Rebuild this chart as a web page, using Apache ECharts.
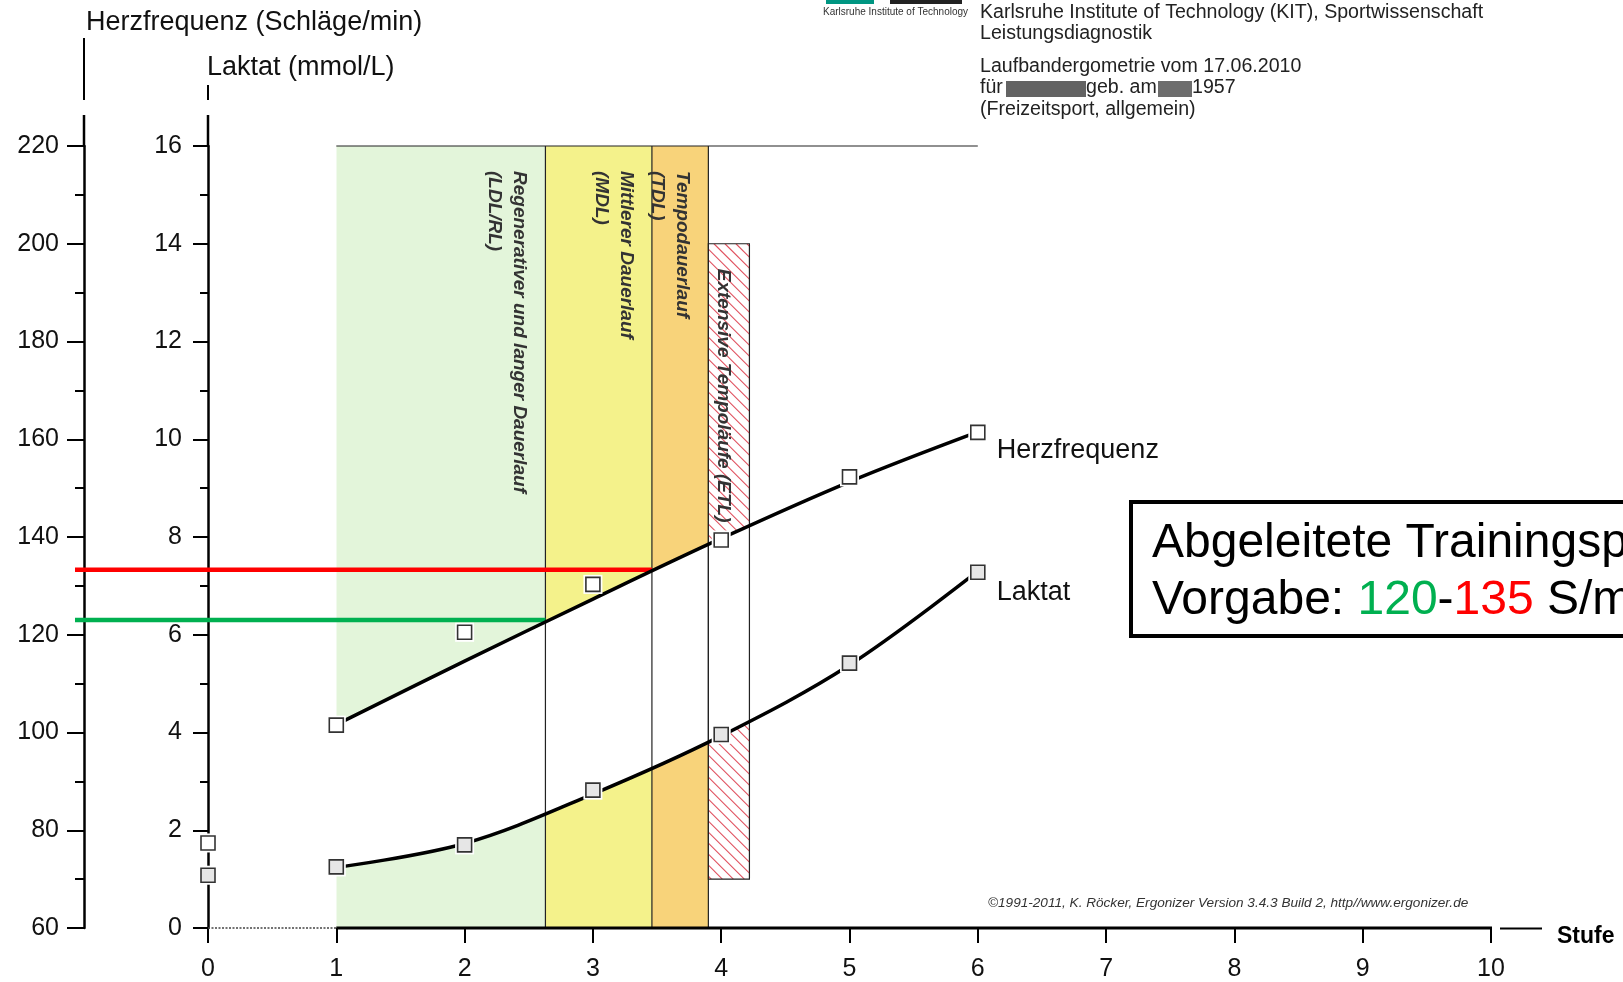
<!DOCTYPE html>
<html><head><meta charset="utf-8">
<script src="https://cdn.jsdelivr.net/npm/echarts@6/dist/echarts.min.js"></script>
<style>html,body{margin:0;padding:0;background:#fff}#c{width:1623px;height:982px}</style>
</head><body><div id="c"></div>
<script>
// ---------- data ----------
const stufen = [1, 2, 3, 4, 5, 6];
const hrMeasured = [101.5, 120.5, 130.3, 139.4, 152.3, 161.4];
const lacMeasured = [1.25, 1.70, 2.82, 3.96, 5.42, 7.28];
const restStufe = [0];
const hrRest = [77.4];
const lacRest = [1.08];
const hrCurve = [101.6, 114.6, 127.3, 139.7, 151.3, 161.5];
const lacCurve = [1.24, 1.73, 2.74, 3.93, 5.38, 7.30];
const zoneNames = ['Regenerativer und langer Dauerlauf\n(LDL/RL)', 'Mittlerer Dauerlauf\n(MDL)', 'Tempodauerlauf\n(TDL)', 'Extensive Tempoläufe (ETL)'];
const zoneFrom = [1, 2.63, 3.46, 3.90];
const zoneTo = [2.63, 3.46, 3.90, 4.22];
const zoneTop = [16, 16, 16, 14];
const zoneBottom = [0, 0, 0, 1];
const frameFrom = 1, frameTo = 6, frameTop = 16;
const targetHR = [123.0, 133.3];
const targetTo = [2.63, 3.46];
const seriesNames = ['Herzfrequenz', 'Laktat'];

// ---------- styles ----------
const FONT = 'Liberation Sans, Arial, sans-serif';
const zoneFill = ['#e3f5da', '#f4f28b', '#f8d37a', 'hatch'];
const targetColors = ['#00b050', '#ff0000'];

const chart = echarts.init(document.getElementById('c'), null, {renderer: 'canvas'});
const pairs = (xs, ys) => xs.map((x, i) => [x, ys[i]]);
const SMOOTH = 0.35;

const axisCommon = {
  type: 'value', position: 'left', splitLine: {show: false},
  axisLine: {show: true, onZero: false, lineStyle: {color: '#000', width: 2.5}},
  axisLabel: {fontSize: 25, color: '#111', fontFamily: FONT}
};

const option = {
  animation: false,
  backgroundColor: '#fff',
  grid: {left: 208, right: 132, top: 146, bottom: 54},
  xAxis: {
    type: 'value', min: 0, max: 10, interval: 1,
    splitLine: {show: false},
    axisLine: {show: false, onZero: false},
    axisTick: {show: true, length: 15, lineStyle: {color: '#000', width: 2}},
    axisLabel: {margin: 29, fontSize: 25, color: '#111', fontFamily: FONT}
  },
  yAxis: [
    Object.assign({}, axisCommon, {
      min: 60, max: 220, interval: 20, offset: 124,
      axisTick: {show: true, length: 17, lineStyle: {color: '#000', width: 2}},
      minorTick: {show: true, splitNumber: 2, length: 9, lineStyle: {color: '#000', width: 2}},
      axisLabel: Object.assign({}, axisCommon.axisLabel, {margin: 25})
    }),
    Object.assign({}, axisCommon, {
      min: 0, max: 16, interval: 2, offset: 0,
      axisTick: {show: true, length: 15, lineStyle: {color: '#000', width: 2}},
      minorTick: {show: true, splitNumber: 2, length: 8, lineStyle: {color: '#000', width: 2}},
      axisLabel: Object.assign({}, axisCommon.axisLabel, {margin: 26})
    })
  ],
  series: [
    {id: 'hrArea', type: 'line', yAxisIndex: 0, data: pairs(stufen, hrCurve), smooth: SMOOTH, showSymbol: false, silent: true,
     lineStyle: {width: 0}, areaStyle: {origin: 'end', color: 'rgba(0,0,0,0)', opacity: 1}, z: 1},
    {id: 'lacArea', type: 'line', yAxisIndex: 1, data: pairs(stufen, lacCurve), smooth: SMOOTH, showSymbol: false, silent: true,
     lineStyle: {width: 0}, areaStyle: {origin: 'start', color: 'rgba(0,0,0,0)', opacity: 1}, z: 1},
    {id: 'borders', type: 'custom', yAxisIndex: 1, data: [[0, 0]], silent: true, z: 3,
     renderItem: function (params, api) {
       const ch = [];
       const st = {stroke: '#222', lineWidth: 1.2};
       for (let i = 0; i < 3; i++) {
         const a = api.coord([zoneTo[i], 0]), b = api.coord([zoneTo[i], zoneTop[i]]);
         ch.push({type: 'line', shape: {x1: a[0], y1: a[1], x2: b[0], y2: b[1]}, style: st});
       }
       const t0 = api.coord([frameFrom, frameTop]), t1 = api.coord([frameTo, frameTop]);
       ch.push({type: 'line', shape: {x1: t0[0], y1: t0[1], x2: t1[0], y2: t1[1]}, style: st});
       const r0 = api.coord([zoneFrom[3], zoneTop[3]]), r1 = api.coord([zoneTo[3], zoneBottom[3]]);
       ch.push({type: 'rect', shape: {x: r0[0], y: r0[1], width: r1[0] - r0[0], height: r1[1] - r0[1]},
                style: {fill: 'none', stroke: '#222', lineWidth: 1.2}});
       return {type: 'group', children: ch};
     }},
    {id: 'zoneLabels', type: 'custom', yAxisIndex: 1, data: [[0, 0]], silent: true, z: 4,
     renderItem: function (params, api) {
       const ch = zoneNames.map((name, i) => {
         const p = api.coord([zoneTo[i], zoneTop[i]]);
         return {type: 'text', x: p[0] - 13.5, y: p[1] + 25, rotation: -Math.PI / 2,
                 style: {text: name, fontSize: 19, fontStyle: 'italic', fontWeight: 'bold', fontFamily: FONT, fill: '#333',
                         align: 'left', verticalAlign: 'top', lineHeight: 25}};
       });
       return {type: 'group', children: ch};
     }},
    {id: 'targets', type: 'custom', yAxisIndex: 0, data: [[0, 60]], silent: true, z: 4, clip: false,
     renderItem: function (params, api) {
       const x0 = params.coordSys.x - 124 - 9;
       const ch = targetHR.map((v, i) => {
         const p = api.coord([targetTo[i], v]);
         return {type: 'line', shape: {x1: x0, y1: p[1], x2: p[0], y2: p[1]},
                 style: {stroke: targetColors[i], lineWidth: 4.5}};
       });
       return {type: 'group', children: ch};
     }},
    {id: 'hrLine', name: seriesNames[0], type: 'line', yAxisIndex: 0, data: pairs(stufen, hrCurve), smooth: SMOOTH,
     showSymbol: false, silent: true, lineStyle: {color: '#000', width: 3.5}, z: 5},
    {id: 'lacLine', name: seriesNames[1], type: 'line', yAxisIndex: 1, data: pairs(stufen, lacCurve), smooth: SMOOTH,
     showSymbol: false, silent: true, lineStyle: {color: '#000', width: 3.5}, z: 5},
    {id: 'hrHalo', type: 'scatter', yAxisIndex: 0, data: pairs(restStufe.concat(stufen), hrRest.concat(hrMeasured)),
     symbol: 'rect', symbolSize: 19, itemStyle: {color: '#fff', opacity: 1}, silent: true, z: 6},
    {id: 'lacHalo', type: 'scatter', yAxisIndex: 1, data: pairs(restStufe.concat(stufen), lacRest.concat(lacMeasured)),
     symbol: 'rect', symbolSize: 19, itemStyle: {color: '#fff', opacity: 1}, silent: true, z: 6},
    {id: 'hrPts', type: 'scatter', yAxisIndex: 0, data: pairs(restStufe.concat(stufen), hrRest.concat(hrMeasured)),
     symbol: 'rect', symbolSize: 14, itemStyle: {color: '#fff', borderColor: '#333', borderWidth: 1.6, opacity: 1}, silent: true, z: 7},
    {id: 'lacPts', type: 'scatter', yAxisIndex: 1, data: pairs(restStufe.concat(stufen), lacRest.concat(lacMeasured)),
     symbol: 'rect', symbolSize: 14, itemStyle: {color: '#e6e6e6', borderColor: '#333', borderWidth: 1.6, opacity: 1}, silent: true, z: 7},
    {id: 'xLine', type: 'custom', yAxisIndex: 1, data: [[0, 0]], silent: true, z: 8,
     renderItem: function (params, api) {
       const a = api.coord([0, 0]), b = api.coord([frameFrom, 0]), c = api.coord([10, 0]);
       return {type: 'group', children: [
         {type: 'line', shape: {x1: a[0], y1: a[1], x2: b[0], y2: b[1]}, style: {stroke: '#444', lineWidth: 1.5, lineDash: [2, 1.5]}},
         {type: 'line', shape: {x1: b[0], y1: b[1], x2: c[0] + 1, y2: c[1]}, style: {stroke: '#000', lineWidth: 3}}
       ]};
     }},
    {id: 'endLabels', type: 'custom', yAxisIndex: 1, data: [[0, 0]], silent: true, z: 8, clip: false,
     renderItem: function (params, api) {
       const last = stufen.length - 1;
       const ph = api.coord([stufen[last], (hrCurve[last] - 60) / 10]);
       const pl = api.coord([stufen[last], lacCurve[last]]);
       return {type: 'group', children: [
         {type: 'text', x: ph[0] + 19, y: ph[1] + 19, style: {text: seriesNames[0], fontSize: 27, fontFamily: FONT, fill: '#111', align: 'left', verticalAlign: 'middle'}},
         {type: 'text', x: pl[0] + 19, y: pl[1] + 21, style: {text: seriesNames[1], fontSize: 27, fontFamily: FONT, fill: '#111', align: 'left', verticalAlign: 'middle'}}
       ]};
     }}
  ],
  graphic: [
    {type: 'text', left: 86, top: 9, style: {text: 'Herzfrequenz (Schläge/min)', fontSize: 27, fontFamily: FONT, fill: '#111'}},
    {type: 'text', left: 207, top: 54, style: {text: 'Laktat (mmol/L)', fontSize: 27, fontFamily: FONT, fill: '#111'}},
    {type: 'line', shape: {x1: 84, y1: 38, x2: 84, y2: 100}, style: {stroke: '#000', lineWidth: 2}},
    {type: 'line', shape: {x1: 84, y1: 115, x2: 84, y2: 147}, style: {stroke: '#000', lineWidth: 2.5}},
    {type: 'line', shape: {x1: 208, y1: 85, x2: 208, y2: 100}, style: {stroke: '#000', lineWidth: 2}},
    {type: 'line', shape: {x1: 208, y1: 115, x2: 208, y2: 147}, style: {stroke: '#000', lineWidth: 2.5}},
    // header
    {type: 'rect', shape: {x: 826, y: 0, width: 48, height: 4}, style: {fill: '#009682'}},
    {type: 'rect', shape: {x: 890, y: 0, width: 72, height: 4}, style: {fill: '#222'}},
    {type: 'text', left: 823, top: 7, style: {text: 'Karlsruhe Institute of Technology', fontSize: 10, fontFamily: FONT, fill: '#333'}},
    {type: 'text', left: 980, top: 2, style: {text: 'Karlsruhe Institute of Technology (KIT), Sportwissenschaft\nLeistungsdiagnostik', fontSize: 19.6, lineHeight: 21, fontFamily: FONT, fill: '#222'}},
    {type: 'text', left: 980, top: 57, style: {text: 'Laufbandergometrie vom 17.06.2010', fontSize: 19.6, fontFamily: FONT, fill: '#222'}},
    {type: 'text', left: 980, top: 78, style: {text: 'für', fontSize: 19.6, fontFamily: FONT, fill: '#222'}},
    {type: 'rect', shape: {x: 1006, y: 81, width: 80, height: 16}, style: {fill: '#3c3c3c', opacity: 0.8}},
    {type: 'text', left: 1086, top: 78, style: {text: 'geb. am', fontSize: 19.6, fontFamily: FONT, fill: '#222'}},
    {type: 'rect', shape: {x: 1158, y: 81, width: 34, height: 16}, style: {fill: '#3c3c3c', opacity: 0.75}},
    {type: 'text', left: 1192, top: 78, style: {text: '1957', fontSize: 19.6, fontFamily: FONT, fill: '#222'}},
    {type: 'text', left: 980, top: 100, style: {text: '(Freizeitsport, allgemein)', fontSize: 19.6, fontFamily: FONT, fill: '#222'}},
    // copyright
    {type: 'text', left: 988, top: 896, style: {text: '©1991-2011, K. Röcker, Ergonizer Version 3.4.3 Build 2, http//www.ergonizer.de', fontSize: 13.6, fontStyle: 'italic', fontFamily: FONT, fill: '#333'}},
    // Stufe
    {type: 'line', shape: {x1: 1500, y1: 928.5, x2: 1542, y2: 928.5}, style: {stroke: '#000', lineWidth: 2}},
    {type: 'text', left: 1557, top: 925, style: {text: 'Stufe', fontSize: 23, fontWeight: 'bold', fontFamily: FONT, fill: '#000'}},
    // box
    {type: 'rect', shape: {x: 1131, y: 502, width: 600, height: 134}, style: {fill: '#fff', stroke: '#000', lineWidth: 4}, z: 100},
    {type: 'text', x: 1152, y: 544, z: 101, style: {text: 'Abgeleitete Trainingspuls-', fontSize: 48, fontFamily: FONT, fill: '#000', verticalAlign: 'middle'}},
    {type: 'text', x: 1152, y: 601, z: 101, style: {
      text: '{a|Vorgabe: }{g|120}{a|-}{r|135}{a| S/min}', verticalAlign: 'middle',
      rich: {a: {fontSize: 48, fontFamily: FONT, fill: '#000'}, g: {fontSize: 48, fontFamily: FONT, fill: '#00b050'}, r: {fontSize: 48, fontFamily: FONT, fill: '#ff0000'}}}}
  ]
};

chart.setOption(option);

function buildPattern() {
  const cv = document.createElement('canvas');
  cv.width = 1623; cv.height = 982;
  const ctx = cv.getContext('2d');
  for (let i = 0; i < zoneFrom.length; i++) {
    const p0 = chart.convertToPixel({seriesIndex: 1}, [zoneFrom[i], zoneTop[i]]);
    const p1 = chart.convertToPixel({seriesIndex: 1}, [zoneTo[i], zoneBottom[i]]);
    const w = p1[0] - p0[0], h = p1[1] - p0[1];
    if (zoneFill[i] === 'hatch') {
      ctx.save();
      ctx.beginPath(); ctx.rect(p0[0], p0[1], w, h); ctx.clip();
      ctx.fillStyle = '#fff'; ctx.fillRect(p0[0], p0[1], w, h);
      ctx.strokeStyle = '#e0505e'; ctx.lineWidth = 1.1;
      for (let k = -w - h; k < w + h; k += 11) {
        ctx.beginPath(); ctx.moveTo(p0[0] + k, p0[1]); ctx.lineTo(p0[0] + k + h, p0[1] + h); ctx.stroke();
      }
      ctx.restore();
    } else {
      ctx.fillStyle = zoneFill[i];
      ctx.fillRect(p0[0], p0[1], w, h);
    }
  }
  return cv;
}
const pat = buildPattern();
chart.setOption({series: [
  {id: 'hrArea', areaStyle: {color: {image: pat, repeat: 'no-repeat'}}},
  {id: 'lacArea', areaStyle: {color: {image: pat, repeat: 'no-repeat'}}}
]});
</script></body></html>
